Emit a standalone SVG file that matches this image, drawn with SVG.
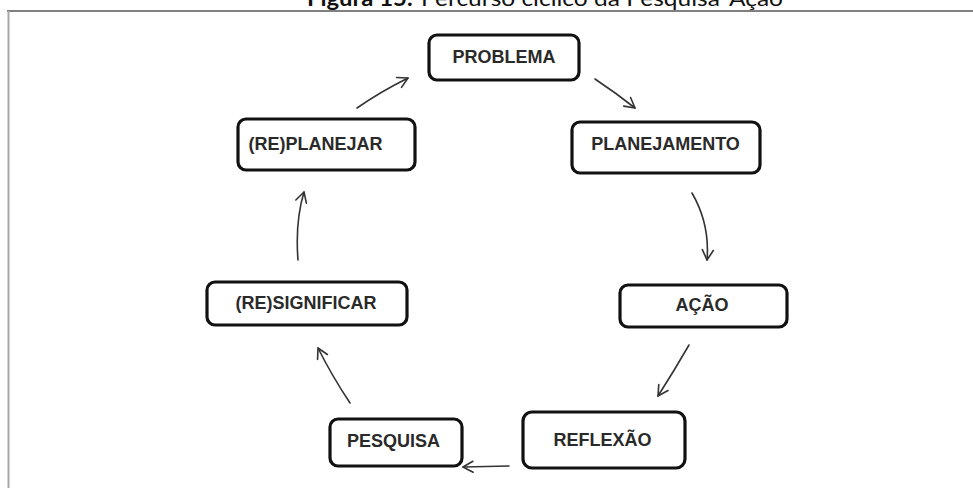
<svg xmlns="http://www.w3.org/2000/svg" width="973" height="488" viewBox="0 0 973 488">
<style>
.box{fill:#fff;stroke:#111;stroke-width:3.2}
.lbl{font-family:"Liberation Sans",Arial,sans-serif;font-weight:bold;font-size:18px;fill:#2a2a2a;text-anchor:middle}
.conn{fill:none;stroke:#333;stroke-width:1.6;stroke-linecap:round}
.title{font-family:Lato,"Open Sans","Liberation Sans",sans-serif;font-size:22px;fill:#111}
</style>
<defs>
<marker id="ah" markerUnits="userSpaceOnUse" markerWidth="16" markerHeight="16" viewBox="-12 -8 14 16" refX="0" refY="0" orient="auto">
<path d="M-10,-5.5 L0,0 L-10,5.5" fill="none" stroke="#333" stroke-width="1.6" stroke-linecap="round" stroke-linejoin="round"/>
</marker>
</defs>
<rect x="0" y="0" width="973" height="488" fill="#fff"/>
<g id="frame">
<line x1="7" y1="11" x2="973" y2="11" stroke="#808080" stroke-width="2"/>
<line x1="8.5" y1="11" x2="8.5" y2="488" stroke="#a8a8a8" stroke-width="2"/>
</g>
<g id="title">
<text class="title" x="307" y="6" font-weight="bold" textLength="106" lengthAdjust="spacingAndGlyphs">Figura 15:</text>
<text class="title" x="421" y="6" textLength="362" lengthAdjust="spacingAndGlyphs">Percurso cíclico da Pesquisa-Ação</text>
</g>
<g id="connectors">
<path class="conn" d="M357,108 Q380,92 408,78" marker-end="url(#ah)"/>
<path class="conn" d="M595,79 Q616,93 635,108" marker-end="url(#ah)"/>
<path class="conn" d="M692,193 Q710,224 707,260" marker-end="url(#ah)"/>
<path class="conn" d="M689,345 Q674,371 658,396" marker-end="url(#ah)"/>
<path class="conn" d="M509,466 L463,467" marker-end="url(#ah)"/>
<path class="conn" d="M350,403 Q332,376 318,348" marker-end="url(#ah)"/>
<path class="conn" d="M298,260 Q295,222 304,192" marker-end="url(#ah)"/>
</g>
<g id="problema">
<rect class="box" x="429" y="35" width="150" height="45" rx="8"/>
<text class="lbl" x="504" y="62.5">PROBLEMA</text>
</g>
<g id="planejamento">
<rect class="box" x="572" y="122" width="188" height="51" rx="8"/>
<text class="lbl" x="665.5" y="149.5">PLANEJAMENTO</text>
</g>
<g id="acao">
<rect class="box" x="620" y="285" width="167" height="42" rx="8"/>
<text class="lbl" x="702" y="311">AÇÃO</text>
</g>
<g id="reflexao">
<rect class="box" x="523" y="412" width="162" height="56" rx="9"/>
<text class="lbl" x="602.5" y="445.5">REFLEXÃO</text>
</g>
<g id="pesquisa">
<rect class="box" x="330" y="419" width="132" height="47" rx="8"/>
<text class="lbl" x="393.5" y="446.5">PESQUISA</text>
</g>
<g id="resignificar">
<rect class="box" x="207" y="282" width="200" height="43" rx="8"/>
<text class="lbl" x="306" y="308.5">(RE)SIGNIFICAR</text>
</g>
<g id="replanejar">
<rect class="box" x="238" y="119" width="177" height="51" rx="8"/>
<text class="lbl" x="315.5" y="149.5">(RE)PLANEJAR</text>
</g>
</svg>
